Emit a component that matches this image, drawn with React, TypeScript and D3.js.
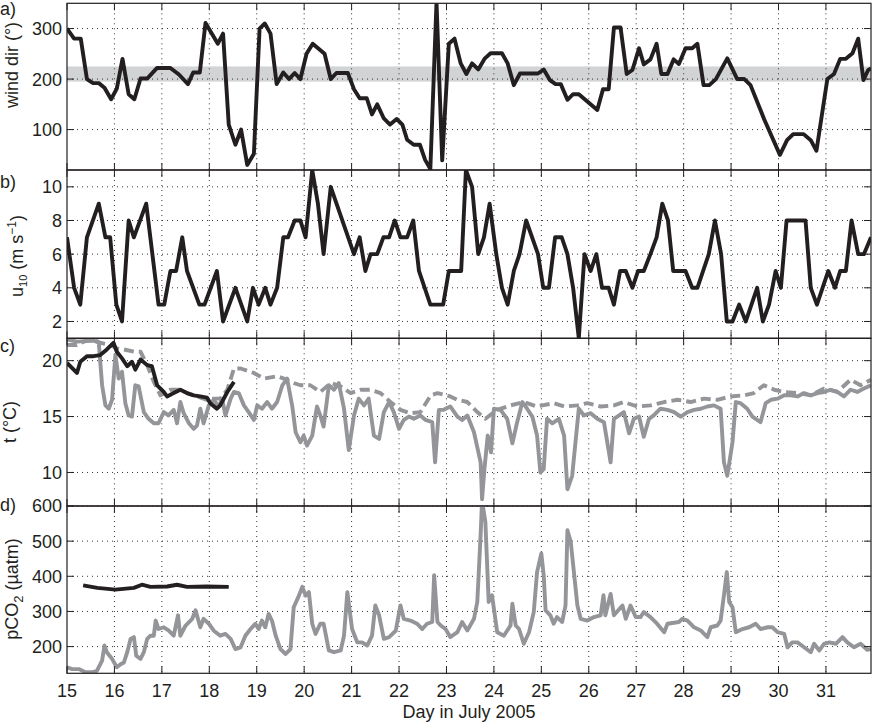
import React from "react";
import * as d3 from "d3";

type Pt = [number, number];

// x ticks (day in July) and y ticks per panel
const dayTicks = d3.range(15, 32);
const windTicks = [100, 200, 300];
const speedTicks = [2, 4, 6, 8, 10];
const tempTicks = [10, 15, 20];
const pco2Ticks = [200, 300, 400, 500, 600];
const windBand: [number, number] = [195, 225];

// a) wind direction (deg)
const windDir: Pt[] = [
  [15.0, 300], [15.15, 280], [15.29, 280], [15.42, 200], [15.55, 192], [15.67, 192], [15.79, 183],
  [15.93, 160], [16.05, 181], [16.17, 240], [16.3, 170], [16.42, 160], [16.55, 201], [16.69, 201],
  [16.9, 222], [17.18, 222], [17.36, 209], [17.55, 190], [17.66, 213], [17.8, 213], [17.92, 311],
  [18.18, 270], [18.29, 290], [18.41, 110], [18.55, 70], [18.67, 100], [18.8, 30], [18.94, 52],
  [19.06, 300], [19.17, 310], [19.29, 290], [19.42, 190], [19.56, 213], [19.68, 200], [19.8, 212],
  [19.92, 200], [20.05, 250], [20.18, 270], [20.43, 250], [20.56, 200], [20.68, 212], [20.92, 212],
  [21.05, 180], [21.17, 162], [21.32, 162], [21.43, 130], [21.54, 150], [21.68, 122], [21.81, 110],
  [21.95, 121], [22.07, 110], [22.17, 80], [22.31, 70], [22.44, 70], [22.55, 40], [22.66, 22],
  [22.79, 352], [22.91, 39], [23.05, 270], [23.17, 280], [23.3, 231], [23.42, 210], [23.54, 231],
  [23.67, 219], [23.81, 241], [23.93, 251], [24.17, 251], [24.29, 231], [24.42, 188], [24.55, 211],
  [24.93, 211], [25.05, 219], [25.18, 198], [25.3, 190], [25.41, 190], [25.55, 159], [25.67, 170],
  [25.79, 170], [26.18, 139], [26.3, 180], [26.42, 180], [26.53, 302], [26.67, 302], [26.8, 210],
  [26.92, 218], [27.06, 261], [27.16, 229], [27.3, 239], [27.43, 270], [27.53, 210], [27.66, 210],
  [27.79, 239], [27.9, 230], [28.04, 261], [28.18, 261], [28.29, 270], [28.42, 188], [28.54, 188],
  [28.68, 200], [28.92, 241], [29.13, 200], [29.28, 200], [29.41, 188], [29.7, 120], [30.03, 50],
  [30.18, 79], [30.31, 91], [30.53, 91], [30.68, 79], [30.8, 58], [31.03, 200], [31.17, 210],
  [31.3, 240], [31.42, 240], [31.56, 251], [31.68, 280], [31.79, 198], [31.89, 218], [31.95, 221],
];

// b) wind speed u10 (m/s)
const windSpeed: Pt[] = [
  [15.0, 7], [15.15, 4], [15.28, 3], [15.42, 7], [15.67, 9], [15.81, 7], [15.91, 7], [16.04, 3],
  [16.16, 2], [16.3, 8], [16.41, 7], [16.67, 9], [16.93, 3], [17.05, 3], [17.18, 5], [17.3, 5],
  [17.43, 7], [17.53, 5], [17.79, 3], [17.9, 3], [18.16, 5], [18.29, 2], [18.55, 4], [18.8, 2],
  [18.92, 4], [19.04, 3], [19.18, 4], [19.29, 3], [19.43, 4], [19.56, 7], [19.66, 7], [19.8, 8],
  [19.92, 8], [20.03, 7], [20.17, 11], [20.29, 9], [20.41, 6], [20.56, 10], [21.05, 6], [21.17, 7],
  [21.29, 5], [21.4, 6], [21.54, 6], [21.67, 7], [21.79, 7], [21.91, 8], [22.03, 7], [22.17, 7],
  [22.3, 8], [22.42, 5], [22.66, 3], [22.93, 3], [23.05, 5], [23.31, 5], [23.41, 11], [23.54, 10],
  [23.67, 6], [23.79, 7], [23.91, 9], [24.05, 6], [24.17, 4], [24.29, 3], [24.42, 5], [24.54, 6],
  [24.68, 8], [24.93, 6], [25.04, 4], [25.16, 4], [25.29, 7], [25.43, 7], [25.55, 6], [25.67, 4],
  [25.79, 1], [25.91, 6], [26.04, 5], [26.16, 6], [26.28, 4], [26.42, 4], [26.53, 3], [26.66, 5],
  [26.78, 5], [26.92, 4], [27.04, 5], [27.16, 5], [27.3, 6], [27.43, 7], [27.55, 9], [27.67, 8],
  [27.78, 5], [28.04, 5], [28.18, 4], [28.29, 4], [28.53, 6], [28.66, 8], [28.79, 6], [28.91, 2],
  [29.03, 2], [29.17, 3], [29.31, 2], [29.55, 4], [29.67, 2], [29.8, 3], [29.94, 5], [30.05, 4],
  [30.17, 8], [30.57, 8], [30.68, 4], [30.81, 3], [31.05, 5], [31.19, 4], [31.3, 5], [31.42, 5],
  [31.54, 8], [31.68, 6], [31.8, 6], [31.95, 7],
];

// c) temperature (degC): black solid, grey solid, grey dashed
const tempBlack: Pt[] = [
  [15.0, 19.8], [15.21, 18.9], [15.28, 19.9], [15.42, 20.4], [15.56, 20.4], [15.7, 20.5],
  [15.84, 21.0], [15.98, 21.6], [16.05, 20.8], [16.16, 20.2], [16.27, 19.5], [16.37, 19.9],
  [16.44, 19.2], [16.55, 20.1], [16.69, 19.6], [16.79, 19.5], [16.9, 17.8], [17.04, 17.2],
  [17.11, 16.8], [17.25, 17.1], [17.39, 17.4], [17.53, 17.1], [17.67, 16.9], [17.81, 16.8],
  [17.95, 16.7], [18.02, 16.2], [18.16, 15.7], [18.23, 16.0], [18.38, 17.2], [18.52, 18.1],
];

const tempGrey: Pt[] = [
  [15.0, 21.9], [15.21, 21.7], [15.56, 21.8], [15.67, 21.6], [15.74, 17.8], [15.81, 16.0],
  [15.88, 15.7], [15.95, 16.5], [16.02, 20.5], [16.09, 18.4], [16.16, 19.0], [16.23, 16.2],
  [16.3, 15.1], [16.37, 15.0], [16.44, 17.8], [16.51, 17.7], [16.62, 15.4], [16.72, 14.8],
  [16.83, 14.4], [16.93, 14.4], [17.04, 15.4], [17.14, 15.1], [17.25, 15.6], [17.32, 14.4],
  [17.39, 16.3], [17.46, 15.3], [17.57, 14.4], [17.67, 13.9], [17.74, 14.2], [17.81, 15.7],
  [17.88, 14.4], [17.99, 16.0], [18.09, 16.5], [18.2, 15.9], [18.27, 16.6], [18.34, 15.1],
  [18.45, 16.6], [18.52, 17.2], [18.62, 17.1], [18.73, 16.0], [18.83, 15.4], [18.94, 14.7],
  [19.01, 16.0], [19.11, 15.7], [19.22, 16.3], [19.32, 15.7], [19.43, 16.3], [19.54, 17.8],
  [19.64, 18.4], [19.75, 15.9], [19.82, 13.6], [19.92, 12.7], [19.99, 13.3], [20.06, 12.4],
  [20.17, 13.3], [20.27, 15.9], [20.34, 15.1], [20.41, 14.1], [20.52, 17.8], [20.63, 17.4],
  [20.73, 18.0], [20.84, 15.7], [20.94, 12.0], [21.05, 15.1], [21.15, 16.6], [21.26, 16.0],
  [21.36, 16.6], [21.47, 13.3], [21.58, 13.0], [21.68, 15.4], [21.79, 16.3], [21.89, 15.4],
  [22.0, 13.9], [22.1, 14.7], [22.21, 15.0], [22.31, 14.8], [22.45, 15.1], [22.56, 14.7],
  [22.7, 14.5], [22.76, 10.9], [22.84, 15.6], [22.94, 15.6], [23.08, 15.9], [23.23, 15.0],
  [23.33, 14.7], [23.44, 15.1], [23.58, 13.6], [23.72, 10.9], [23.75, 7.6], [23.8, 10.3],
  [23.87, 13.3], [23.94, 11.8], [24.0, 15.7], [24.14, 15.6], [24.28, 14.8], [24.39, 12.6],
  [24.49, 14.5], [24.6, 16.3], [24.7, 15.7], [24.81, 15.0], [24.91, 13.3], [24.98, 10.0],
  [25.05, 10.3], [25.12, 14.8], [25.23, 14.4], [25.37, 14.8], [25.48, 13.3], [25.55, 8.5],
  [25.65, 9.7], [25.72, 12.7], [25.79, 15.7], [25.9, 15.1], [26.04, 15.3], [26.18, 14.8],
  [26.32, 14.5], [26.46, 10.9], [26.53, 14.8], [26.64, 15.1], [26.74, 15.4], [26.85, 13.5],
  [26.95, 14.8], [27.06, 15.0], [27.16, 13.2], [27.27, 14.8], [27.37, 15.1], [27.51, 15.7],
  [27.66, 15.6], [27.8, 15.4], [27.94, 15.0], [28.08, 15.4], [28.22, 15.6], [28.36, 15.7],
  [28.5, 15.9], [28.64, 16.0], [28.78, 15.7], [28.85, 10.9], [28.92, 9.7], [29.03, 12.7],
  [29.1, 16.3], [29.2, 16.2], [29.34, 15.7], [29.45, 15.0], [29.62, 14.5], [29.73, 16.2],
  [29.84, 16.5], [29.98, 16.6], [30.12, 16.9], [30.26, 16.9], [30.4, 16.8], [30.54, 17.1],
  [30.68, 16.9], [30.82, 17.1], [30.96, 17.2], [31.1, 17.4], [31.24, 17.2], [31.38, 16.8],
  [31.52, 17.4], [31.66, 17.2], [31.8, 17.5], [31.95, 17.8],
];

const tempGreyDashed: Pt[] = [
  [15.0, 21.4], [15.21, 21.4], [15.35, 21.7], [15.56, 21.9], [15.7, 21.6], [15.91, 21.4],
  [16.05, 21.1], [16.2, 21.0], [16.41, 20.8], [16.55, 20.8], [16.69, 19.6], [16.83, 18.1],
  [16.97, 16.9], [17.18, 17.4], [17.39, 17.4], [17.53, 17.1], [17.74, 16.8], [17.95, 16.5],
  [18.09, 16.6], [18.23, 16.6], [18.38, 17.4], [18.52, 19.3], [18.66, 19.3], [18.94, 18.9],
  [19.15, 18.4], [19.43, 18.6], [19.57, 18.4], [19.78, 18.0], [19.92, 17.8], [20.13, 17.8],
  [20.34, 17.2], [20.56, 18.0], [20.77, 17.7], [20.98, 17.1], [21.19, 17.4], [21.4, 17.4],
  [21.61, 17.1], [21.82, 16.3], [22.03, 15.6], [22.24, 15.3], [22.45, 15.4], [22.67, 16.9],
  [22.81, 17.1], [23.08, 16.8], [23.23, 16.5], [23.44, 16.3], [23.65, 15.4], [23.82, 14.8],
  [24.07, 15.6], [24.35, 16.0], [24.63, 16.3], [24.91, 15.9], [25.26, 16.2], [25.48, 15.9],
  [25.76, 16.0], [25.97, 16.2], [26.25, 15.9], [26.53, 16.0], [26.74, 16.3], [27.02, 15.9],
  [27.3, 16.0], [27.59, 16.3], [27.87, 16.5], [28.15, 16.3], [28.43, 16.6], [28.71, 16.5],
  [28.99, 16.8], [29.27, 16.9], [29.48, 17.1], [29.69, 17.8], [29.91, 17.4], [30.12, 17.2],
  [30.4, 17.1], [30.68, 16.9], [30.96, 17.5], [31.24, 17.2], [31.52, 18.3], [31.73, 17.8],
  [31.95, 18.3],
];

// d) pCO2 (uatm): black (air) and grey (water)
const pco2Black: Pt[] = [
  [15.34, 374], [15.64, 367], [16.02, 362], [16.41, 367], [16.58, 376], [16.76, 370],
  [17.11, 371], [17.32, 376], [17.53, 370], [17.95, 371], [18.41, 370],
];

const pco2Grey: Pt[] = [
  [15.0, 141], [15.11, 136], [15.25, 136], [15.39, 127], [15.53, 127], [15.63, 131], [15.74, 160],
  [15.79, 203], [15.84, 184], [15.95, 165], [16.05, 141], [16.13, 150], [16.2, 155], [16.27, 184],
  [16.34, 222], [16.41, 227], [16.46, 174], [16.55, 165], [16.62, 184], [16.69, 222], [16.76, 231],
  [16.83, 231], [16.87, 274], [16.93, 250], [17.04, 255], [17.14, 246], [17.25, 231], [17.34, 289],
  [17.39, 231], [17.5, 260], [17.64, 279], [17.71, 303], [17.81, 255], [17.88, 279], [17.99, 265],
  [18.09, 246], [18.23, 231], [18.34, 236], [18.45, 222], [18.55, 193], [18.66, 198], [18.76, 231],
  [18.87, 250], [18.97, 265], [19.04, 250], [19.11, 274], [19.18, 255], [19.25, 293], [19.32, 274],
  [19.4, 231], [19.5, 193], [19.61, 179], [19.71, 193], [19.78, 312], [19.89, 345], [19.96, 370],
  [20.03, 345], [20.1, 355], [20.17, 265], [20.24, 236], [20.34, 265], [20.41, 265], [20.52, 189],
  [20.63, 184], [20.77, 189], [20.84, 231], [20.91, 355], [21.01, 250], [21.12, 212], [21.22, 212],
  [21.33, 203], [21.43, 231], [21.5, 317], [21.58, 289], [21.68, 222], [21.79, 227], [21.93, 245],
  [22.03, 317], [22.1, 279], [22.24, 274], [22.38, 265], [22.49, 250], [22.59, 265], [22.7, 270],
  [22.74, 403], [22.81, 270], [22.88, 260], [22.98, 250], [23.08, 227], [23.23, 241], [23.33, 270],
  [23.44, 246], [23.58, 279], [23.65, 327], [23.72, 517], [23.75, 615], [23.82, 555], [23.89, 327],
  [23.96, 346], [24.07, 241], [24.21, 231], [24.35, 260], [24.39, 322], [24.46, 260], [24.53, 250],
  [24.63, 208], [24.74, 241], [24.84, 298], [24.91, 412], [25.0, 465], [25.05, 403], [25.09, 303],
  [25.19, 289], [25.26, 265], [25.33, 284], [25.44, 270], [25.51, 317], [25.55, 531], [25.62, 498],
  [25.76, 317], [25.83, 279], [25.97, 274], [26.11, 284], [26.25, 289], [26.31, 346], [26.35, 289],
  [26.46, 350], [26.53, 289], [26.71, 317], [26.78, 279], [26.88, 317], [26.99, 284], [27.09, 284],
  [27.16, 298], [27.3, 284], [27.44, 265], [27.59, 241], [27.66, 265], [27.9, 270], [27.97, 279],
  [28.08, 274], [28.22, 255], [28.36, 246], [28.5, 227], [28.57, 255], [28.71, 260], [28.78, 274],
  [28.85, 346], [28.91, 412], [28.96, 327], [29.03, 312], [29.1, 241], [29.24, 250], [29.38, 255],
  [29.52, 265], [29.62, 250], [29.77, 255], [29.87, 255], [29.98, 241], [30.12, 236], [30.19, 198],
  [30.29, 212], [30.4, 212], [30.54, 198], [30.68, 184], [30.75, 208], [30.86, 189], [30.96, 208],
  [31.07, 212], [31.21, 208], [31.35, 227], [31.45, 212], [31.59, 198], [31.73, 208], [31.87, 191],
  [31.95, 193],
];

const ink = "#231f20";
const grey = "#939598";
const font = "'Liberation Sans', Arial, Helvetica, sans-serif";
const left = 67;
const right = 871;

const x = d3.scaleLinear().domain([15, 31.95]).range([left, right]);

interface Series {
  data: Pt[];
  color: string;
  dash?: string;
}

interface PanelProps {
  id: string;
  top: number;
  bottom: number;
  domain: [number, number];
  ticks: number[];
  series: Series[];
  band?: [number, number];
}

const Panel: React.FC<PanelProps> = ({ id, top, bottom, domain, ticks, series, band }) => {
  const y = d3.scaleLinear().domain(domain).range([bottom, top]);
  const line = d3
    .line<Pt>()
    .x((d) => x(d[0]))
    .y((d) => y(d[1]));
  const tickLen = 7;

  return (
    <g>
      <defs>
        <clipPath id={`clip-${id}`}>
          <rect x={left} y={top} width={right - left} height={bottom - top} />
        </clipPath>
      </defs>
      {band && (
        <rect
          x={left}
          y={y(band[1])}
          width={right - left}
          height={y(band[0]) - y(band[1])}
          fill="#d1d3d4"
        />
      )}
      {/* dotted grid */}
      <g stroke="#333" strokeWidth={1} strokeDasharray="1,4">
        {dayTicks.slice(1).map((d) => (
          <line key={`gx${d}`} x1={x(d)} x2={x(d)} y1={top} y2={bottom} />
        ))}
        {ticks.map((t) => (
          <line key={`gy${t}`} x1={left} x2={right} y1={y(t)} y2={y(t)} />
        ))}
      </g>
      <g clipPath={`url(#clip-${id})`}>
        {series.map((s, i) => (
          <path
            key={i}
            d={line(s.data) ?? ""}
            fill="none"
            stroke={s.color}
            strokeWidth={3.9}
            strokeLinejoin="round"
            strokeDasharray={s.dash}
          />
        ))}
      </g>
      {/* inward ticks */}
      <g stroke={ink} strokeWidth={1}>
        {dayTicks.map((d) => (
          <g key={`tx${d}`}>
            <line x1={x(d)} x2={x(d)} y1={top} y2={top + tickLen} />
            <line x1={x(d)} x2={x(d)} y1={bottom} y2={bottom - tickLen} />
          </g>
        ))}
        {ticks.map((t) => (
          <g key={`ty${t}`}>
            <line x1={left} x2={left + tickLen} y1={y(t)} y2={y(t)} />
            <line x1={right} x2={right - tickLen} y1={y(t)} y2={y(t)} />
          </g>
        ))}
      </g>
      <rect
        x={left}
        y={top}
        width={right - left}
        height={bottom - top}
        fill="none"
        stroke={ink}
        strokeWidth={1.2}
      />
      <g fontFamily={font} fontSize={18} fill={ink} textAnchor="end">
        {ticks.map((t) => (
          <text key={`l${t}`} x={left - 5} y={y(t)} dy="0.36em">
            {t}
          </text>
        ))}
      </g>
    </g>
  );
};

const App: React.FC = () => {
  return (
    <svg
      width={872}
      height={722}
      style={{ position: "absolute", left: 0, top: 0, background: "#fff" }}
    >
      <rect width={872} height={722} fill="#fff" />
      <Panel
        id="a"
        top={3.3}
        bottom={170}
        domain={[20, 350]}
        ticks={windTicks}
        band={windBand}
        series={[{ data: windDir, color: ink }]}
      />
      <Panel
        id="b"
        top={170}
        bottom={338.3}
        domain={[1, 11]}
        ticks={speedTicks}
        series={[{ data: windSpeed, color: ink }]}
      />
      <Panel
        id="c"
        top={338.3}
        bottom={506}
        domain={[7, 22]}
        ticks={tempTicks}
        series={[
          { data: tempGrey, color: grey },
          { data: tempGreyDashed, color: grey, dash: "10,5" },
          { data: tempBlack, color: ink },
        ]}
      />
      <Panel
        id="d"
        top={506}
        bottom={673.3}
        domain={[124, 600]}
        ticks={pco2Ticks}
        series={[
          { data: pco2Grey, color: grey },
          { data: pco2Black, color: ink },
        ]}
      />

      <g fontFamily={font} fontSize={18} fill={ink}>
        {/* panel letters */}
        <text x={0} y={15}>a)</text>
        <text x={0} y={188}>b)</text>
        <text x={0} y={352}>c)</text>
        <text x={0} y={511}>d)</text>

        {/* y axis labels */}
        <text transform="translate(18,65) rotate(-90)" textAnchor="middle">
          wind dir (°)
        </text>
        <text transform="translate(23,256) rotate(-90)" textAnchor="middle">
          u<tspan dy={4} fontSize={11}>10</tspan>
          <tspan dy={-4}> (m s</tspan>
          <tspan dy={-7} fontSize={12}>−1</tspan>
          <tspan dy={7}>)</tspan>
        </text>
        <text transform="translate(16,422) rotate(-90)" textAnchor="middle">
          t (°C)
        </text>
        <text transform="translate(18,589) rotate(-90)" textAnchor="middle">
          pCO<tspan dy={5} fontSize={13}>2</tspan>
          <tspan dy={-5}> (µatm)</tspan>
        </text>

        {/* x axis */}
        <g textAnchor="middle">
          {dayTicks.map((d) => (
            <text key={d} x={x(d)} y={697}>
              {d}
            </text>
          ))}
        </g>
        <text x={(left + right) / 2} y={718} textAnchor="middle">
          Day in July 2005
        </text>
      </g>
    </svg>
  );
};

export default App;
